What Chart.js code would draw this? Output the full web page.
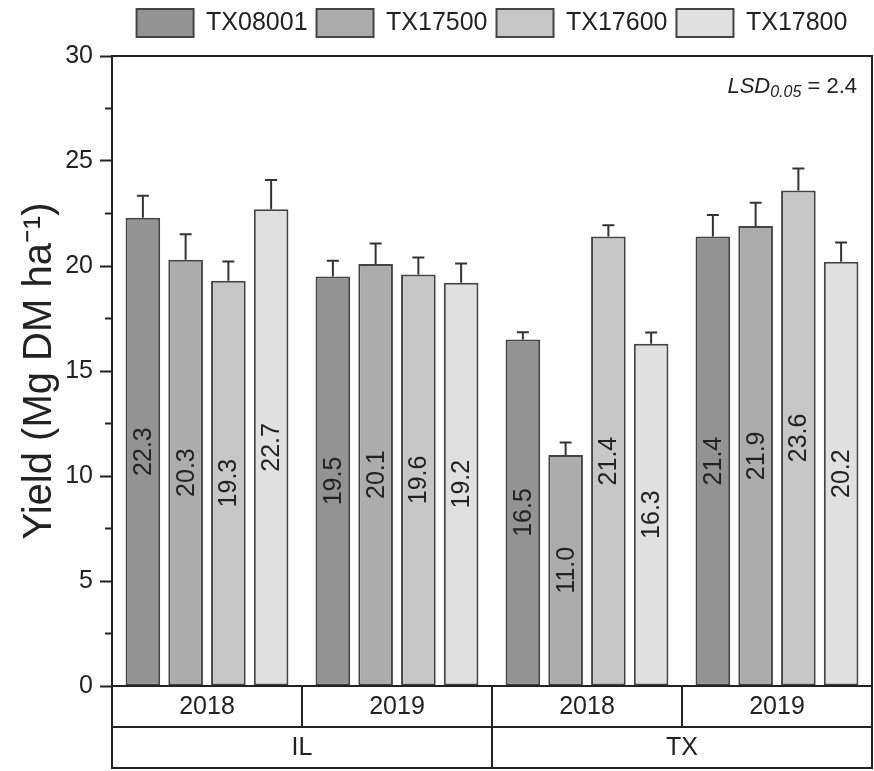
<!DOCTYPE html>
<html>
<head>
<meta charset="utf-8">
<title>Yield by genotype</title>
<script src="https://cdn.jsdelivr.net/npm/chart.js@4.4.1/dist/chart.umd.min.js"></script>
<style>
  html, body { margin: 0; padding: 0; background: #fff; }
  #yieldChart { display: block; }
</style>
</head>
<body>
<canvas id="yieldChart" width="874" height="771"></canvas>
<script>
// Data
const years = ["2018", "2019", "2018", "2019"];
const sites = ["IL", "IL", "TX", "TX"];

const genotypes = ["TX08001", "TX17500", "TX17600", "TX17800"];
const tx08001 = [22.3, 19.5, 16.5, 21.4];
const tx17500 = [20.3, 20.1, 11.0, 21.9];
const tx17600 = [19.3, 19.6, 21.4, 23.6];
const tx17800 = [22.7, 19.2, 16.3, 20.2];

// upper error bars (standard error)
const err08001 = [1.05, 0.75, 0.35, 1.03];
const err17500 = [1.21, 0.97, 0.59, 1.11];
const err17600 = [0.91, 0.8, 0.54, 1.04];
const err17800 = [1.4, 0.92, 0.53, 0.92];

const yTicks = [0, 5, 10, 15, 20, 25, 30];
const lsdValue = "2.4";

const fills = ["#939393", "#acacac", "#c6c7c6", "#dfe0df"];
const FONT = "'Liberation Sans', Arial, Helvetica, sans-serif";
const INK = "#222";

const seriesValues = [tx08001, tx17500, tx17600, tx17800];
const seriesErrors = [err08001, err17500, err17600, err17800];

// Error bars, value labels, frame, minor ticks, category boxes and LSD note
const extrasPlugin = {
  id: "extras",
  beforeInit(chart) {
    // leave some room between the legend and the plot
    const legend = chart.legend;
    if (legend) {
      const fit = legend.fit;
      legend.fit = function () {
        fit.call(this);
        this.height += 9;
      };
    }
  },
  afterDatasetsDraw(chart) {
    const ctx = chart.ctx;
    const y = chart.scales.y;

    chart.data.datasets.forEach((ds, di) => {
      const meta = chart.getDatasetMeta(di);
      meta.data.forEach((bar, i) => {
        const top = y.getPixelForValue(ds.data[i] + seriesErrors[di][i]);
        ctx.save();
        ctx.strokeStyle = "#333";
        ctx.lineWidth = 2;
        ctx.beginPath();
        ctx.moveTo(bar.x, bar.y);
        ctx.lineTo(bar.x, top);
        ctx.moveTo(bar.x - 6, top);
        ctx.lineTo(bar.x + 6, top);
        ctx.stroke();
        ctx.restore();

        // value written up the middle of the bar
        ctx.save();
        ctx.translate(bar.x, (bar.y + bar.base) / 2);
        ctx.rotate(-Math.PI / 2);
        ctx.font = "25px " + FONT;
        ctx.fillStyle = INK;
        ctx.textAlign = "center";
        ctx.textBaseline = "middle";
        ctx.fillText(ds.data[i].toFixed(1), 0, 1);
        ctx.restore();
      });
    });
  },
  afterDraw(chart) {
    const ctx = chart.ctx;
    const area = chart.chartArea;
    const x = chart.scales.x;
    const y = chart.scales.y;

    ctx.save();
    ctx.strokeStyle = INK;
    ctx.lineWidth = 2;

    // plot frame
    ctx.strokeRect(area.left, area.top, area.right - area.left, area.bottom - area.top);

    // minor ticks halfway between labels
    ctx.beginPath();
    for (let i = 0; i < yTicks.length - 1; i++) {
      const py = y.getPixelForValue((yTicks[i] + yTicks[i + 1]) / 2);
      ctx.moveTo(area.left - 7, py);
      ctx.lineTo(area.left, py);
    }
    ctx.stroke();

    // two rows of category boxes under the axis
    const rowH = 41;
    const r1 = area.bottom;
    const r2 = r1 + rowH;
    const r3 = r2 + rowH;
    ctx.strokeRect(area.left, r1, area.right - area.left, r3 - r1);
    ctx.beginPath();
    ctx.moveTo(area.left, r2);
    ctx.lineTo(area.right, r2);
    const half = (x.getPixelForValue(1) - x.getPixelForValue(0)) / 2;
    for (let i = 1; i < years.length; i++) {
      const bx = x.getPixelForValue(i) - half;
      ctx.moveTo(bx, r1);
      ctx.lineTo(bx, sites[i] === sites[i - 1] ? r2 : r3);
    }
    ctx.stroke();

    ctx.fillStyle = INK;
    ctx.font = "25px " + FONT;
    ctx.textAlign = "center";
    ctx.textBaseline = "middle";
    years.forEach((yr, i) => {
      ctx.fillText(yr, x.getPixelForValue(i), r1 + rowH / 2 + 1);
    });

    // site labels centred over their run of categories
    let start = 0;
    for (let i = 1; i <= sites.length; i++) {
      if (i === sites.length || sites[i] !== sites[start]) {
        const cx = (x.getPixelForValue(start) + x.getPixelForValue(i - 1)) / 2;
        ctx.fillText(sites[start], cx, r2 + rowH / 2 + 1);
        start = i;
      }
    }

    // LSD note, top right
    const right = area.right - 15;
    const base = area.top + 37;
    ctx.textAlign = "right";
    ctx.textBaseline = "alphabetic";
    ctx.font = "22px " + FONT;
    ctx.fillText(" = " + lsdValue, right, base);
    let px = right - ctx.measureText(" = " + lsdValue).width;
    ctx.font = "italic 16px " + FONT;
    ctx.fillText("0.05", px, base + 4);
    px -= ctx.measureText("0.05").width;
    ctx.font = "italic 22px " + FONT;
    ctx.fillText("LSD", px, base);
    ctx.restore();
  },
};

const chart = new Chart(document.getElementById("yieldChart"), {
  type: "bar",
  data: {
    labels: years,
    datasets: genotypes.map((name, i) => ({
      label: name,
      data: seriesValues[i],
      backgroundColor: fills[i],
      borderColor: "#444",
      borderWidth: 2,
      borderSkipped: false,
      categoryPercentage: 0.9,
      barPercentage: 0.81,
    })),
  },
  options: {
    responsive: false,
    animation: false,
    devicePixelRatio: 1,
    layout: { padding: { top: 0, right: 2, bottom: 0, left: 0 } },
    plugins: {
      tooltip: { enabled: false },
      legend: {
        position: "top",
        fullSize: false,
        labels: {
          boxWidth: 57,
          boxHeight: 28,
          padding: 9,
          color: INK,
          font: { family: FONT, size: 25 },
        },
      },
    },
    scales: {
      x: {
        ticks: { display: false },
        grid: { display: false },
        border: { display: false },
        afterFit(scale) {
          scale.height = 85;
        },
      },
      y: {
        min: 0,
        max: 30,
        ticks: {
          stepSize: 5,
          padding: 7,
          color: INK,
          font: { family: FONT, size: 25 },
        },
        grid: {
          drawOnChartArea: false,
          tickLength: 12,
          tickWidth: 2,
          tickColor: INK,
        },
        border: { color: INK, width: 2 },
        title: {
          display: true,
          text: "Yield (Mg DM ha⁻¹)",
          color: INK,
          font: { family: FONT, size: 40 },
          padding: { top: 16, bottom: 0 },
        },
        afterFit(scale) {
          scale.width = 112;
        },
      },
    },
  },
  plugins: [extrasPlugin],
});
</script>
</body>
</html>
